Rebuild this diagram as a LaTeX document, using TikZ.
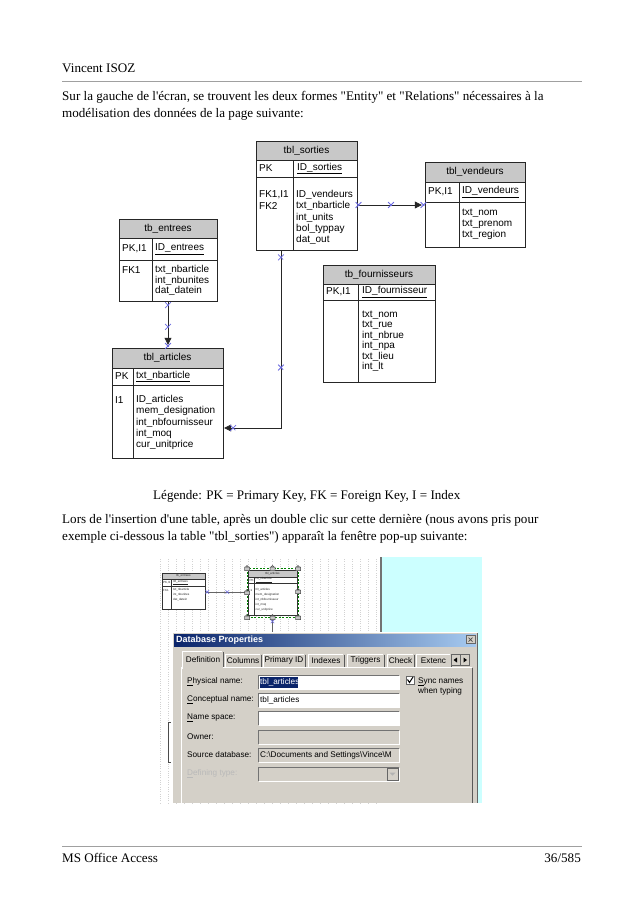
\documentclass[tikz,border=0pt]{standalone}
\usepackage{fontspec}
\setmainfont{Liberation Serif}
\newfontfamily\uifont{Liberation Sans}
\usetikzlibrary{positioning, arrows.meta, shapes.misc, fit, calc}
\definecolor{rulegray}{HTML}{A0A0A0}
\definecolor{hdrgray}{HTML}{C8C8C8}
\definecolor{xblue}{HTML}{6A6AE0}
\definecolor{winface}{HTML}{D4D0C8}
\definecolor{titledark}{HTML}{0A246A}
\definecolor{titlelight}{HTML}{A6CAF0}
\definecolor{selblue}{HTML}{0A246A}
\definecolor{canvascyan}{HTML}{CCFFFF}

\begin{document}
\begin{tikzpicture}[x=1pt, y=-1pt,
  bodytxt/.style={font=\fontsize{13.1}{15}\selectfont, anchor=base west, inner sep=0pt},
  tblframe/.style={rectangle, inner sep=0pt},
  tblline/.style={draw=black!85, line width=0.6pt},
  hdrtxt/.style={font=\uifont\fontsize{10}{12}\selectfont, inner sep=0pt},
  celltxt/.style={font=\uifont\fontsize{10}{12}\selectfont, anchor=west, inner sep=0pt},
  conn/.style={draw=black!85, line width=0.6pt},
  tipconn/.style={conn, -{Triangle[length=7pt, width=7pt]}},
  xmark/.style={cross out, draw=xblue, line width=0.8pt, minimum size=5pt, inner sep=0pt},
  minix/.style={cross out, draw=xblue, line width=0.5pt, minimum size=3pt, inner sep=0pt},
  minitxt/.style={font=\uifont\fontsize{3}{4}\selectfont, text=black!85, anchor=west, inner sep=0pt},
  gridline/.style={gray!35, dotted, line width=0.3pt, step=8},
  selbox/.style={draw=green!50!black, dash pattern=on 2pt off 1.5pt, line width=0.6pt},
  btnbox/.style={rectangle, fill=winface, draw=black!60, line width=0.5pt, inner sep=0pt},
  chkbox/.style={rectangle, fill=white, draw=black!60, line width=0.6pt, minimum size=8pt, inner sep=0pt},
  dlgtxt/.style={font=\uifont\fontsize{8.2}{10}\selectfont, anchor=west, inner sep=0pt},
  titletxt/.style={font=\uifont\bfseries\fontsize{9}{11}\selectfont, text=white, anchor=west, inner sep=0pt}
]
  \useasboundingbox (0,0) rectangle (638,903);
  \fill[white] (0,0) rectangle (638,903);

  % page header and intro text
  \node[bodytxt] (author) at (62,72) {Vincent ISOZ};
  \draw[rulegray, line width=1pt] (62,81) -- (582,81);
  \node[bodytxt] (intro1) at (62,100) {Sur la gauche de l\textquotesingle écran, se trouvent les deux formes \textquotedbl Entity\textquotedbl{} et \textquotedbl Relations\textquotedbl{} nécessaires à la};
  \node[bodytxt] (intro2) at (62,117) {modélisation des données de la page suivante:};

  % entity tables: name/left/top/right/bottom/header/pk row/divider
  \foreach \n/\xl/\yt/\xr/\yb/\yh/\yp/\xd in {sorties/256/141/357/250/160/177/293,
      vendeurs/425/162/525/247/182/202/459, entrees/119/219/217/301/238/260/152,
      fourn/323/265/435/382/284/300/358, articles/112/348/223/458/368/385/133}{
    \node[tblframe, fit={(\xl,\yt) (\xr,\yb)}] (\n) {};
    \fill[hdrgray] (\xl,\yt) rectangle (\xr,\yh);
    \draw[tblline] (\xl,\yt) rectangle (\xr,\yb) (\xl,\yh) -- (\xr,\yh)
      (\xl,\yp) -- (\xr,\yp) (\xd,\yh) -- (\xd,\yb);
  }
  \foreach \n/\x/\y/\t in {sorties/306.5/151/tbl\_sorties, vendeurs/475/172/tbl\_vendeurs,
      entrees/168/228.5/tb\_entrees, fourn/379/274.5/tb\_fournisseurs,
      articles/167.5/358/tbl\_articles}
    \node[hdrtxt] (\n-h) at (\x,\y) {\t};

  % key column and primary keys
  \node[celltxt] (sorties-pk) at (259,168.5) {PK};
  \node[celltxt] (sorties-id) at (297,168.5) {\underline{ID\_sorties}};
  \node[celltxt] (sorties-k1) at (259,195) {FK1,I1};
  \node[celltxt] (sorties-k2) at (259,206) {FK2};
  \node[celltxt] (vendeurs-pk) at (428,192) {PK,I1};
  \node[celltxt] (vendeurs-id) at (462,192) {\underline{ID\_vendeurs}};
  \node[celltxt] (entrees-pk) at (122,249) {PK,I1};
  \node[celltxt] (entrees-id) at (155,249) {\underline{ID\_entrees}};
  \node[celltxt] (entrees-k1) at (122,270) {FK1};
  \node[celltxt] (fourn-pk) at (326,292) {PK,I1};
  \node[celltxt] (fourn-id) at (362,292) {\underline{ID\_fournisseur}};
  \node[celltxt] (articles-pk) at (115,376.5) {PK};
  \node[celltxt] (articles-id) at (136,376.5) {\underline{txt\_nbarticle}};
  \node[celltxt] (articles-k1) at (115,400) {I1};

  % attributes
  \foreach \t [count=\i from 0] in {ID\_vendeurs, txt\_nbarticle, int\_units, bol\_typpay, dat\_out}
    \node[celltxt] (sorties-a\i) at (296,{195+11.3*\i}) {\t};
  \foreach \t [count=\i from 0] in {txt\_nom, txt\_prenom, txt\_region}
    \node[celltxt] (vendeurs-a\i) at (462,{213+11*\i}) {\t};
  \foreach \t [count=\i from 0] in {txt\_nbarticle, int\_nbunites, dat\_datein}
    \node[celltxt] (entrees-a\i) at (155,{270+10.5*\i}) {\t};
  \foreach \t [count=\i from 0] in {txt\_nom, txt\_rue, int\_nbrue, int\_npa, txt\_lieu, int\_lt}
    \node[celltxt] (fourn-a\i) at (362,{315+10.4*\i}) {\t};
  \foreach \t [count=\i from 0] in {ID\_articles, mem\_designation, int\_nbfournisseur, int\_moq, cur\_unitprice}
    \node[celltxt] (articles-a\i) at (136,{400+11.25*\i}) {\t};

  % relations
  \draw[tipconn, shorten >=3pt] (sorties.east |- 0,205) -- (vendeurs.west |- 0,205)
    node[xmark, pos=0.02] (sv1) {} node[xmark, pos=0.5] (sv2) {} node[xmark, pos=0.98] (sv3) {};
  \draw[tipconn, shorten >=3pt] (entrees.south) -- (entrees.south |- articles.north)
    node[xmark, pos=0.085] (ea1) {} node[xmark, pos=0.55] (ea2) {} node[xmark, pos=0.96] (ea3) {};
  \draw[tipconn, shorten >=1pt] (sorties.south -| 281,0) |- (articles.east |- 0,428)
    node[xmark, pos=0.02] (sa1) {} node[xmark, pos=0.33] (sa2) {} node[xmark, pos=0.914] (sa3) {};

  % legend and second text
  \node[bodytxt] (legend) at (153,499) {Légende: PK = Primary Key, FK = Foreign Key, I = Index};
  \node[bodytxt] (insert1) at (62,523) {Lors de l\textquotesingle insertion d\textquotesingle une table, après un double clic sur cette dernière (nous avons pris pour};
  \node[bodytxt] (insert2) at (62,540) {exemple ci-dessous la table \textquotedbl tbl\_sorties\textquotedbl) apparaît la fenêtre pop-up suivante:};

  % screenshot: canvas
  \draw[gridline] (156,557) grid (381,803);
  \fill[canvascyan] (382,557) rectangle (482,803);
  \draw[black!55, line width=1.5pt] (381,557) -- (381,632);
  \draw[black!70, line width=0.5pt] (170.5,722) -- (168.5,722) -- (168.5,762) -- (170.5,762);

  % screenshot: small tables
  \foreach \n/\xl/\yt/\xr/\yb/\yh/\yp/\xd in {mentrees/162/573/205/609/579/586/171,
      marticles/248/570/297/615/577/583/254}{
    \node[tblframe, fit={(\xl,\yt) (\xr,\yb)}] (\n) {};
    \fill[white] (\xl,\yt) rectangle (\xr,\yb);
    \fill[hdrgray] (\xl,\yt) rectangle (\xr,\yh);
    \draw[black!80, line width=0.4pt] (\xl,\yt) rectangle (\xr,\yb) (\xl,\yh) -- (\xr,\yh)
      (\xl,\yp) -- (\xr,\yp) (\xd,\yh) -- (\xd,\yb);
  }
  \node[minitxt, anchor=center] (mentrees-h) at (183.5,576) {tb\_entrees};
  \node[minitxt] (mentrees-pk) at (163,582.5) {PK,I1};
  \node[minitxt] (mentrees-id) at (173,582.5) {\underline{ID\_entrees}};
  \node[minitxt] (mentrees-k1) at (163,590) {FK1};
  \foreach \t [count=\i from 0] in {txt\_nbarticle, int\_nbunites, dat\_datein}
    \node[minitxt] (mentrees-a\i) at (173,{590+5*\i}) {\t};
  \node[minitxt, anchor=center] (marticles-h) at (272.5,573.5) {tbl\_articles};
  \node[minitxt] (marticles-pk) at (249.5,580) {PK};
  \node[minitxt] (marticles-id) at (255.5,580) {\underline{txt\_nbarticle}};
  \node[minitxt] (marticles-k1) at (249.5,590) {I1};
  \foreach \t [count=\i from 0] in {ID\_articles, mem\_designation, int\_nbfournisseur, int\_moq, cur\_unitprice}
    \node[minitxt] (marticles-a\i) at (255.5,{590+5*\i}) {\t};

  \draw[black!60, line width=0.5pt] (mentrees.east |- 0,592) -- (marticles.west |- 0,592)
    node[minix, pos=0.05] (mm1) {} node[minix, pos=0.52] (mm2) {};
  \draw[black!60, line width=0.6pt] (marticles.south) -- (marticles.south |- 0,633)
    node[minix, pos=0.35] (mm3) {};

  % selection with handles
  \draw[selbox] (247,568) rectangle (298,617);
  \foreach \x/\y in {247/568, 272.5/568, 298/568, 247/592, 298/591, 247/617, 272.5/617, 298/617}{
    \fill[gray!45] (\x-2.5,\y-1) rectangle (\x+2.5,\y+2.5);
    \draw[black!70, line width=0.5pt] (\x-2.5,\y-1) rectangle (\x+2.5,\y+2.5)
      (\x-1.5,\y-1) arc[start angle=180, end angle=360, radius=1.5];
  }

  % screenshot: dialog window
  \fill[winface] (172,632) rectangle (478,803);
  \draw[white, line width=0.8pt] (172.5,803) -- (172.5,632.5) -- (477.5,632.5);
  \draw[black!60, line width=0.8pt] (477.5,632.5) -- (477.5,803);
  \shade[left color=titledark, right color=titlelight] (174,634) rectangle (476,646);
  \node[titletxt] (dlgtitle) at (176,640.5) {Database Properties};
  \node[btnbox, minimum width=9pt, minimum height=8pt] (closebtn) at (470.5,639.5) {};
  \draw[black!70, line width=0.7pt] (468.5,637.5) -- (472.5,641.5) (468.5,641.5) -- (472.5,637.5);

  % tabs
  \draw[white, line width=0.6pt] (181.5,803) -- (181.5,667.5) -- (472,667.5);
  \draw[black!65, line width=0.6pt] (472,667.5) -- (472,803);
  \foreach \xl/\xr/\t [count=\i] in {225/261/Columns, 263/305/Primary ID, 308/344/Indexes,
      347/384/Triggers, 387/414/Check, 416/451/Extenc}{
    \draw[white, line width=0.6pt] (\xl,667) -- (\xl,654) -- (\xr-1,654);
    \draw[black!65, line width=0.6pt] (\xr,654.5) -- (\xr,667);
    \node[dlgtxt, anchor=center] (tab\i) at ({(\xl+\xr)/2},660.5) {\t};
  }
  \fill[winface] (182.5,651.5) rectangle (223,668.5);
  \draw[white, line width=0.6pt] (182.5,668.5) -- (182.5,651.5) -- (222,651.5);
  \draw[black!65, line width=0.6pt] (223,652) -- (223,667);
  \node[dlgtxt, anchor=center] (tab0) at (203,660) {Definition};
  \node[btnbox, minimum width=9pt, minimum height=11pt] (tabprev) at (455.5,660) {};
  \node[btnbox, minimum width=9pt, minimum height=11pt] (tabnext) at (465,660) {};
  \fill (453.5,660) -- (457,657.5) -- (457,662.5) -- cycle;
  \fill (467,660) -- (463.5,657.5) -- (463.5,662.5) -- cycle;

  % fields
  \foreach \y/\t [count=\i] in {682/\underline{P}hysical name:, 700/\underline{C}onceptual name:,
      718/\underline{N}ame space:, 737/Owner:, 755/Source database:}
    \node[dlgtxt] (lbl\i) at (187,\y) {\t};
  \node[dlgtxt, text=gray!55] (lbl6) at (187,774) {\underline{D}efining type:};
  \foreach \yt/\yb/\c in {675/689/white, 693/707/white, 711/725/white,
      730/744/winface, 748/762/winface, 767/781/winface}{
    \fill[\c] (258,\yt) rectangle (399,\yb);
    \draw[black!55, line width=0.6pt] (258.5,\yb) -- (258.5,\yt+0.5) -- (399,\yt+0.5);
    \draw[white, line width=0.6pt] (399,\yt+0.5) -- (399,\yb) -- (258.5,\yb);
  }
  \fill[selblue] (259.5,677) rectangle (298,687.5);
  \node[dlgtxt, text=white] (physval) at (260,682) {tbl\_articles};
  \node[dlgtxt] (conceptval) at (260,700) {tbl\_articles};
  \node[dlgtxt] (srcval) at (260,755) {C:\textbackslash Documents and Settings\textbackslash Vince\textbackslash M};
  \node[btnbox, minimum width=11pt, minimum height=12pt] (ddbtn) at (392.5,774) {};
  \fill[gray!60] (389.5,772.5) -- (395.5,772.5) -- (392.5,775.5) -- cycle;

  % sync checkbox
  \node[chkbox] (sync) at (410,680) {};
  \draw[black, line width=1pt] (407.5,679.5) -- (409.5,682.5) -- (413,677);
  \node[dlgtxt] (synctxt) at (418,682) {\underline{S}ync names};
  \node[dlgtxt] (synctxt2) at (418,691.5) {when typing};

  % page footer
  \draw[rulegray, line width=1pt] (62,846) -- (582,846);
  \node[bodytxt] (foot) at (62,862) {MS Office Access};
  \node[bodytxt, anchor=base east] (page) at (581,862) {36/585};
\end{tikzpicture}
\end{document}
